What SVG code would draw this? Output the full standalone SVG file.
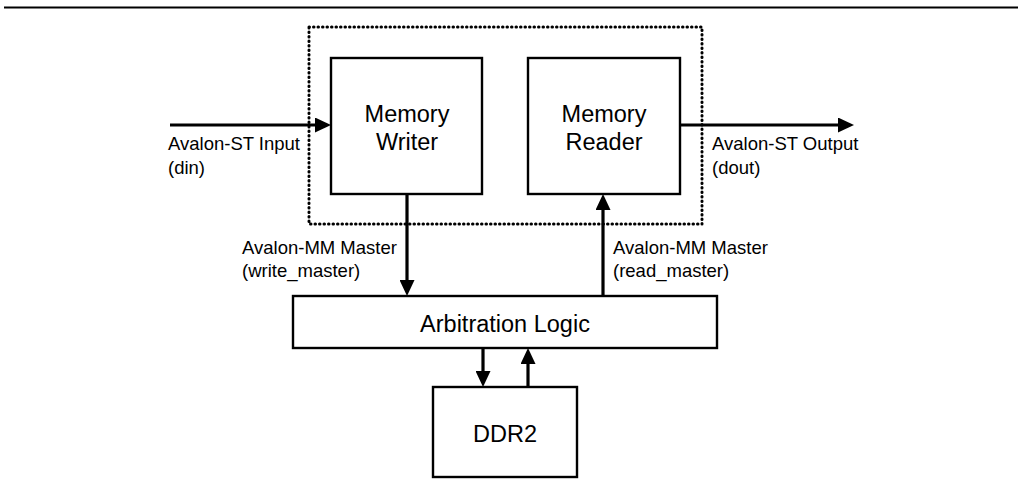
<svg xmlns="http://www.w3.org/2000/svg" width="1018" height="493" viewBox="0 0 1018 493">
  <style>
    .box { fill: #fff; stroke: #000; stroke-width: 2.4; }
    .conn { stroke: #000; stroke-width: 3.2; fill: none; }
    .dots { fill: none; stroke: #000; stroke-width: 3; stroke-linecap: round; stroke-dasharray: 0.5 4; }
    .lbl { font-family: "Liberation Sans", Arial, sans-serif; font-size: 18.5px; fill: #000; }
    .big { font-family: "Liberation Sans", Arial, sans-serif; font-size: 23.5px; fill: #000; text-anchor: middle; }
  </style>
  <defs>
    <marker id="ah" markerUnits="userSpaceOnUse" markerWidth="16" markerHeight="15" refX="8" refY="7.5" orient="auto" viewBox="0 0 16 15">
      <path d="M0,0 L16,7.5 L0,15 z" fill="#000"/>
    </marker>
  </defs>
  <rect x="0" y="0" width="1018" height="493" fill="#fff"/>
  <line x1="4" y1="7.5" x2="1018" y2="7.5" stroke="#000" stroke-width="2.2"/>
  <g id="boundary">
    <rect class="dots" x="309" y="27" width="393" height="197"/>
  </g>
  <g id="memory-writer">
    <rect class="box" x="331" y="58" width="151" height="136"/>
    <text class="big" x="407" y="122">Memory</text>
    <text class="big" x="407" y="150">Writer</text>
  </g>
  <g id="memory-reader">
    <rect class="box" x="528" y="58" width="152" height="136"/>
    <text class="big" x="604" y="122">Memory</text>
    <text class="big" x="604" y="150">Reader</text>
  </g>
  <g id="arbitration-logic">
    <rect class="box" x="293" y="296" width="424" height="52"/>
    <text class="big" x="505" y="332">Arbitration Logic</text>
  </g>
  <g id="ddr2">
    <rect class="box" x="433" y="387" width="144" height="90"/>
    <text class="big" x="505" y="442">DDR2</text>
  </g>
  <g id="connectors">
    <line class="conn" x1="170" y1="125" x2="323" y2="125" marker-end="url(#ah)"/>
    <line class="conn" x1="680" y1="125" x2="846" y2="125" marker-end="url(#ah)"/>
    <line class="conn" x1="407" y1="194" x2="407" y2="288" marker-end="url(#ah)"/>
    <line class="conn" x1="603" y1="296" x2="603" y2="202" marker-end="url(#ah)"/>
    <line class="conn" x1="483" y1="348" x2="483" y2="379" marker-end="url(#ah)"/>
    <line class="conn" x1="528" y1="387" x2="528" y2="356" marker-end="url(#ah)"/>
  </g>
  <g id="labels">
    <text class="lbl" x="168" y="150">Avalon-ST Input</text>
    <text class="lbl" x="168" y="174">(din)</text>
    <text class="lbl" x="712" y="150">Avalon-ST Output</text>
    <text class="lbl" x="712" y="174">(dout)</text>
    <text class="lbl" x="242" y="254">Avalon-MM Master</text>
    <text class="lbl" x="242" y="277">(write_master)</text>
    <text class="lbl" x="613" y="254">Avalon-MM Master</text>
    <text class="lbl" x="613" y="277">(read_master)</text>
  </g>
</svg>
